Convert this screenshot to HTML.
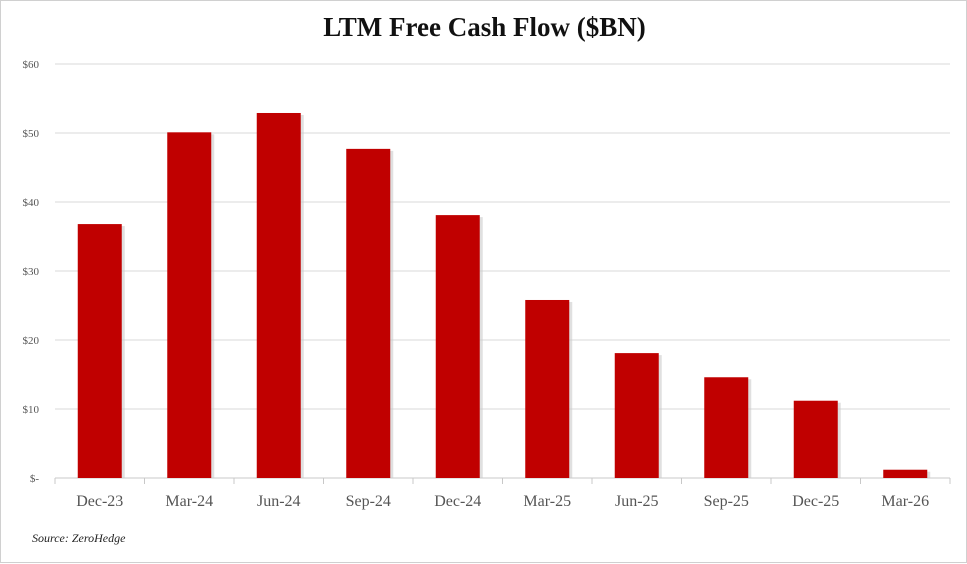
<!DOCTYPE html>
<html><head><meta charset="utf-8"><style>
html,body{margin:0;padding:0;background:#fff}
#wrap{position:relative;width:967px;height:563px;box-sizing:border-box;border:1px solid #d0d0d0;font-family:"Liberation Serif",serif}
#title{position:absolute;left:0;width:967px;top:11px;text-align:center;font-size:27px;font-weight:bold;color:#111}
#src{position:absolute;left:31px;top:530px;font-size:12px;font-style:italic;color:#222}
svg{position:absolute;left:0;top:0}
</style></head><body>
<div id="wrap">
<div id="title">LTM Free Cash Flow ($BN)</div>
<svg id="chart" width="967" height="563"></svg>
<div id="src">Source: ZeroHedge</div>
</div>
<script>
const categories=["Dec-23","Mar-24","Jun-24","Sep-24","Dec-24","Mar-25","Jun-25","Sep-25","Dec-25","Mar-26"];
const values=[36.8,50.1,52.9,47.7,38.1,25.8,18.1,14.6,11.2,1.2];
const ticks=[0,10,20,30,40,50,60];
const tickLabels=["$-","$10","$20","$30","$40","$50","$60"];
const svg=document.getElementById('chart');
const NS='http://www.w3.org/2000/svg';
const L=54,R=949,T=63,B=477,max=60;
const y=v=>B-(v/max)*(B-T);
const step=(R-L)/categories.length;
const xc=i=>L+step*(i+0.5);
function mk(tag,a){const e=document.createElementNS(NS,tag);for(const k in a)e.setAttribute(k,a[k]);svg.appendChild(e);return e;}
ticks.forEach((t,i)=>{
 if(t>0){const g=mk('line',{x1:L,x2:R,y1:y(t),y2:y(t),stroke:'#d9d9d9','stroke-width':1});
 
 }
 const tx=mk('text',{x:38,y:y(t)+4,'text-anchor':'end','font-size':11,fill:'#555','font-family':'Liberation Serif, serif'});
 tx.textContent=tickLabels[i];
 
 
});
const ax=mk('line',{x1:L,x2:R,y1:B,y2:B,stroke:'#c8c8c8','stroke-width':1});


for(let i=0;i<=categories.length;i++){
 const tk=mk('line',{x1:L+step*i,x2:L+step*i,y1:B,y2:B+6,stroke:'#c8c8c8'});
 
 
}
const bw=44;
categories.forEach((c,i)=>{
 const sh=mk('rect',{x:xc(i)-bw/2+3,y:y(values[i])+2,width:bw,height:B-y(values[i])-2,fill:'#ccc',opacity:0.6});
 
 
 const r=mk('rect',{x:xc(i)-bw/2,y:y(values[i]),width:bw,height:B-y(values[i]),fill:'#c00000'});
 
 
 const t=mk('text',{x:xc(i),y:505,'text-anchor':'middle','font-size':16,fill:'#555','font-family':'Liberation Serif, serif'});
 t.textContent=c;
 
 
});
</script>
</body></html>
